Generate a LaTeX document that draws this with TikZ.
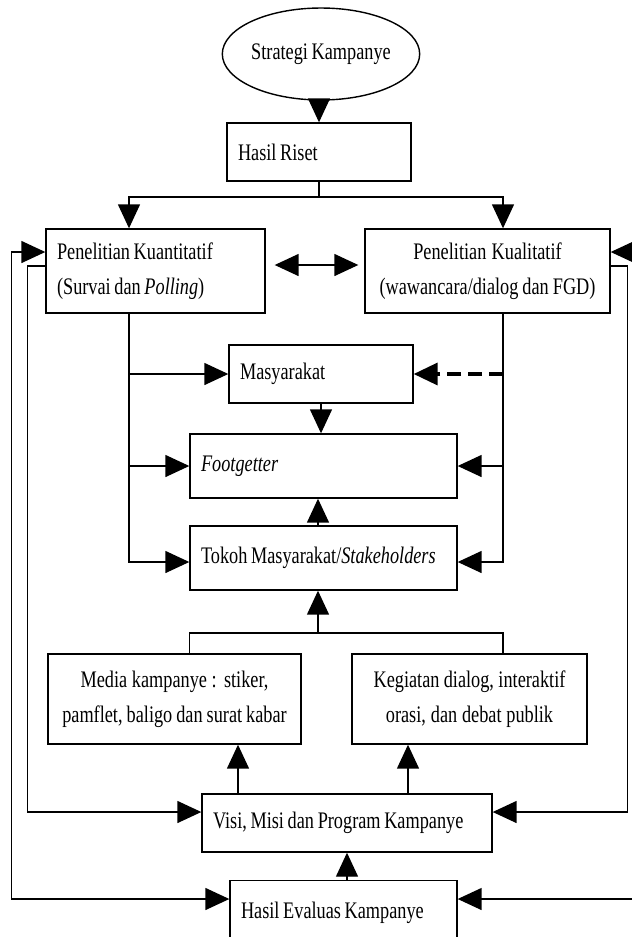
\documentclass[tikz,border=0pt]{standalone}
\usepackage{fontspec}
\setmainfont{Liberation Serif}[FakeStretch=0.77, WordSpace=0.8]
\usepackage{tikz}
\usetikzlibrary{arrows.meta,shapes.geometric}

\newcommand{\isifont}{\fontsize{13.5}{20}\selectfont}

\begin{document}
\begin{tikzpicture}[x=0.02cm, y=-0.02cm, line width=0.8pt,
    every node/.style={font=\isifont, execute at begin node={\spaceskip=0pt\xspaceskip=0pt}},
    kotak/.style={draw, rectangle, inner xsep=0.22cm, inner ysep=0pt, align=left},
    kotaktengah/.style={draw, rectangle, inner xsep=0.11cm, inner ysep=0pt, align=center},
    panah/.style={-{Triangle[length=0.48cm,width=0.44cm]}},
    duapanah/.style={{Triangle[length=0.48cm,width=0.44cm]}-{Triangle[length=0.48cm,width=0.44cm]}}]

    \useasboundingbox (0,0) rectangle (632,937);

    \node[draw, ellipse, minimum width=3.74cm, minimum height=1.84cm, inner sep=0pt] (strategi) at (321,54) {Strategi Kampanye};
    \node[kotak, text width=3.24cm, minimum height=1.16cm] (riset) at (319,152) {Hasil Riset};
    \node[kotak, text width=3.94cm, minimum height=1.68cm] (kuanti) at (155.5,271)
        {Penelitian Kuantitatif\\(Survai dan \textit{Polling})};
    \node[kotaktengah, text width=4.68cm, minimum height=1.68cm] (kuali) at (487.5,271)
        {Penelitian Kualitatif\\(wawancara/dialog dan FGD)};
    \node[kotak, text width=3.24cm, minimum height=1.16cm] (masyarakat) at (321,374) {Masyarakat};
    \node[kotak, text width=4.9cm, minimum height=1.28cm] (footgetter) at (323.5,466) {\textit{Footgetter}};
    \node[kotak, text width=4.9cm, minimum height=1.28cm] (tokoh) at (323.5,558) {Tokoh Masyarakat/\textit{Stakeholders}};
    \node[kotaktengah, text width=4.84cm, minimum height=1.8cm] (media) at (174.5,699)
        {Media kampanye : stiker,\\pamflet, baligo dan surat kabar};
    \node[kotaktengah, text width=4.48cm, minimum height=1.8cm] (kegiatan) at (469.5,699)
        {Kegiatan dialog, interaktif\\orasi, dan debat publik};
    \node[kotak, text width=5.36cm, minimum height=1.16cm] (visi) at (347,823) {Visi, Misi dan Program Kampanye};
    \node[kotak, text width=4.1cm, minimum height=1.3cm] (evaluasi) at (343.5,913) {Hasil Evaluas Kampanye};

    \coordinate (kiri) at (129,0);
    \coordinate (kanan) at (503,0);
    \coordinate (cabang) at (319,197);
    \coordinate (gabung) at (318,633);
    \coordinate (xmedia) at (238,0);
    \coordinate (xkeg) at (408,0);

    \draw[panah] (strategi.south -| riset.north) -- (riset.north);
    \draw (riset.south) -- (cabang);
    \draw[panah] (cabang) -| (kuanti.north -| kiri);
    \draw[panah] (cabang) -| (kuali.north -| kanan);
    \draw[duapanah, shorten <=0.18cm, shorten >=0.12cm] ([yshift=0.12cm]kuanti.east) -- ([yshift=0.12cm]kuali.west);

    % jalur kiri dan kanan
    \draw[panah] (kuanti.south -| kiri) |- ([yshift=-0.08cm]tokoh.west);
    \draw[panah] (kiri |- masyarakat.west) -- (masyarakat.west);
    \draw[panah] (kiri |- footgetter.west) -- (footgetter.west);
    \draw[panah] (kuali.south -| kanan) |- ([yshift=-0.08cm]tokoh.east);
    \draw[panah] (kanan |- footgetter.east) -- (footgetter.east);
    \draw[panah, line width=2pt, dash pattern=on 0.28cm off 0.14cm] (kanan |- masyarakat.east) -- (masyarakat.east);

    \draw[panah] (masyarakat.south) -- (masyarakat.south |- footgetter.north);
    \draw[panah] (tokoh.north -| gabung) -- (footgetter.south -| gabung);
    \draw (media.north -| tokoh.west) |- (gabung) -| (kegiatan.north -| kanan);
    \draw[panah] (gabung) -- (tokoh.south -| gabung);

    \draw[panah] (visi.north -| xmedia) -- (media.south -| xmedia);
    \draw[panah] (visi.north -| xkeg) -- (kegiatan.south -| xkeg);
    \draw[panah] (evaluasi.north -| visi.south) -- (visi.south);

    % umpan balik
    \draw[panah] ([yshift=0.1cm]kuanti.west) -- ++(-0.36cm,0) |- ([yshift=0.22cm]visi.west);
    \draw[panah] ([yshift=0.1cm]kuali.east) -- ++(0.34cm,0) |- ([yshift=0.22cm]visi.east);
    \draw[duapanah] ([yshift=0.38cm]kuanti.west) -- ++(-0.68cm,0) |- ([yshift=0.28cm]evaluasi.west);
    \draw[duapanah] ([yshift=0.38cm]kuali.east) -- ++(0.6cm,0) |- ([yshift=0.28cm]evaluasi.east);

\end{tikzpicture}
\end{document}
